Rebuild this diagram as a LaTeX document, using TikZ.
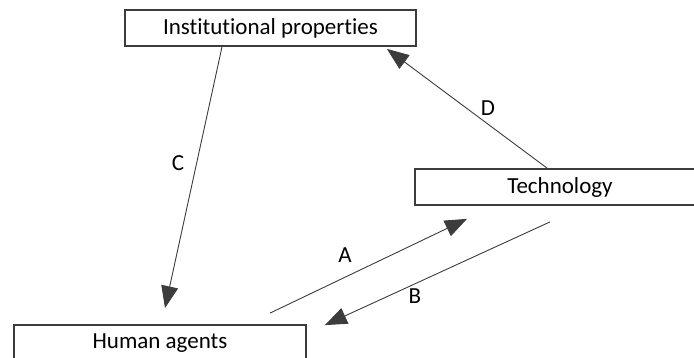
\documentclass[tikz,border=0pt]{standalone}
\usepackage{fontspec}
\setmainfont[Ligatures={NoCommon,NoContextual,NoRequired},Contextuals={NoAlternate}]{Carlito}
\usetikzlibrary{arrows.meta}
\definecolor{linegray}{HTML}{3C3C3C}
\tikzset{
    box/.style={draw=linegray, line width=1.8pt, minimum height=36pt, inner sep=0pt, font=\fontsize{23}{27}\selectfont},
    conn/.style={draw=linegray, line width=0.9pt, -{Triangle[length=22pt, width=17pt]}},
    lbl/.style={font=\fontsize{23}{27}\selectfont}
}
\begin{document}
\begin{tikzpicture}[x=1pt, y=-1pt]
    \useasboundingbox (0,0) rectangle (694,358);
    \node[box, minimum width=291pt] (inst) at (270.5,28) {Institutional properties};
    \node[box, minimum width=290pt] (tech) at (560,187) {Technology};
    \node[box, minimum width=292pt] (human) at (160,343) {Human agents};

    \draw[conn] ([xshift=-48.5pt]inst.south) -- ([shift={(5pt,16pt)}]human.north);
    \draw[conn] ([xshift=-13pt]tech.north) -- ([shift={(-30pt,-2pt)}]inst.south east);
    \draw[conn] ([shift={(110pt,11pt)}]human.north) -- ([shift={(-93pt,-13pt)}]tech.south);
    \draw[conn] ([shift={(-10pt,-16pt)}]tech.south) -- ([shift={(18pt,-1pt)}]human.north east);

    \node[lbl] (labC) at (178,163) {C};
    \node[lbl] (labD) at (488,108) {D};
    \node[lbl] (labA) at (345,255) {A};
    \node[lbl] (labB) at (415,296) {B};
\end{tikzpicture}
\end{document}
